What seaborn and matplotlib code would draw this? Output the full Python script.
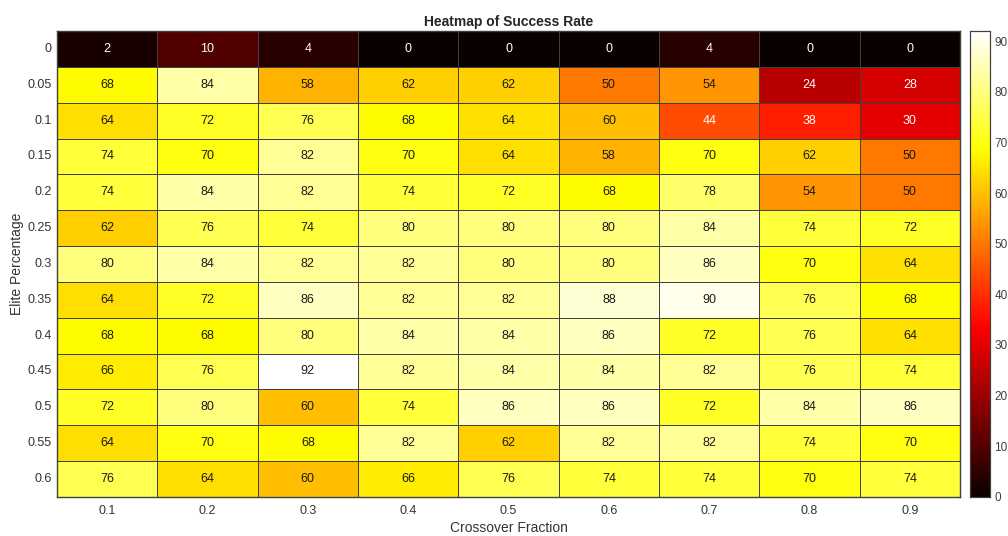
import numpy as np
import pandas as pd
import matplotlib
matplotlib.use("Agg")
import matplotlib.pyplot as plt
import seaborn as sns

crossover = ["0.1", "0.2", "0.3", "0.4", "0.5", "0.6", "0.7", "0.8", "0.9"]
elite = ["0", "0.05", "0.1", "0.15", "0.2", "0.25", "0.3", "0.35", "0.4",
         "0.45", "0.5", "0.55", "0.6"]
success = [
    [2, 10, 4, 0, 0, 0, 4, 0, 0],
    [68, 84, 58, 62, 62, 50, 54, 24, 28],
    [64, 72, 76, 68, 64, 60, 44, 38, 30],
    [74, 70, 82, 70, 64, 58, 70, 62, 50],
    [74, 84, 82, 74, 72, 68, 78, 54, 50],
    [62, 76, 74, 80, 80, 80, 84, 74, 72],
    [80, 84, 82, 82, 80, 80, 86, 70, 64],
    [64, 72, 86, 82, 82, 88, 90, 76, 68],
    [68, 68, 80, 84, 84, 86, 72, 76, 64],
    [66, 76, 92, 82, 84, 84, 82, 76, 74],
    [72, 80, 60, 74, 86, 86, 72, 84, 86],
    [64, 70, 68, 82, 62, 82, 82, 74, 70],
    [76, 64, 60, 66, 76, 74, 74, 70, 74],
]

df = pd.DataFrame(success, index=elite, columns=crossover)

sns.set_theme(style="white")
plt.rcParams['font.family'] = ['Liberation Sans', 'DejaVu Sans']

fig = plt.figure(figsize=(10.08, 5.36), dpi=100)
ax = fig.add_axes([0.0565, 0.073, 0.896, 0.869])
cax = fig.add_axes([0.9625, 0.073, 0.020, 0.869])

vmax = df.values.max()
sns.heatmap(df, ax=ax, cbar_ax=cax, cmap="hot", vmin=0, vmax=vmax,
            linewidths=0.45, linecolor="#404040", annot=False)

for i, row in enumerate(success):
    for j, v in enumerate(row):
        ax.text(j + 0.5, i + 0.5, str(v), ha="center", va="center",
                fontsize=9, color="white" if v < 47 else "#1a1a1a")

for s in ax.spines.values():
    s.set_visible(True)
    s.set_color("#404040")
    s.set_linewidth(1.0)

ax.tick_params(axis="y", length=0, labelsize=9, colors="#333333", pad=4)
ax.tick_params(axis="x", length=0, labelsize=9, colors="#333333", pad=6)
ax.set_yticklabels(elite, rotation=0)
ax.set_xticklabels(crossover, rotation=0)
ax.set_xlabel("Crossover Fraction", fontsize=10, color="#333333", labelpad=3)
ax.set_ylabel("Elite Percentage", fontsize=10, color="#333333", labelpad=2)
ax.set_title("Heatmap of Success Rate", fontsize=10, fontweight="bold",
             color="#262626", pad=4)

cax.set_yticks(range(0, 91, 10))
cax.tick_params(axis="y", direction="in", length=4, labelsize=8.5,
                colors="#404040", right=True, pad=3)
for s in cax.spines.values():
    s.set_visible(True)
    s.set_color("#404040")
    s.set_linewidth(0.8)

fig.savefig("out.png", dpi=100)
